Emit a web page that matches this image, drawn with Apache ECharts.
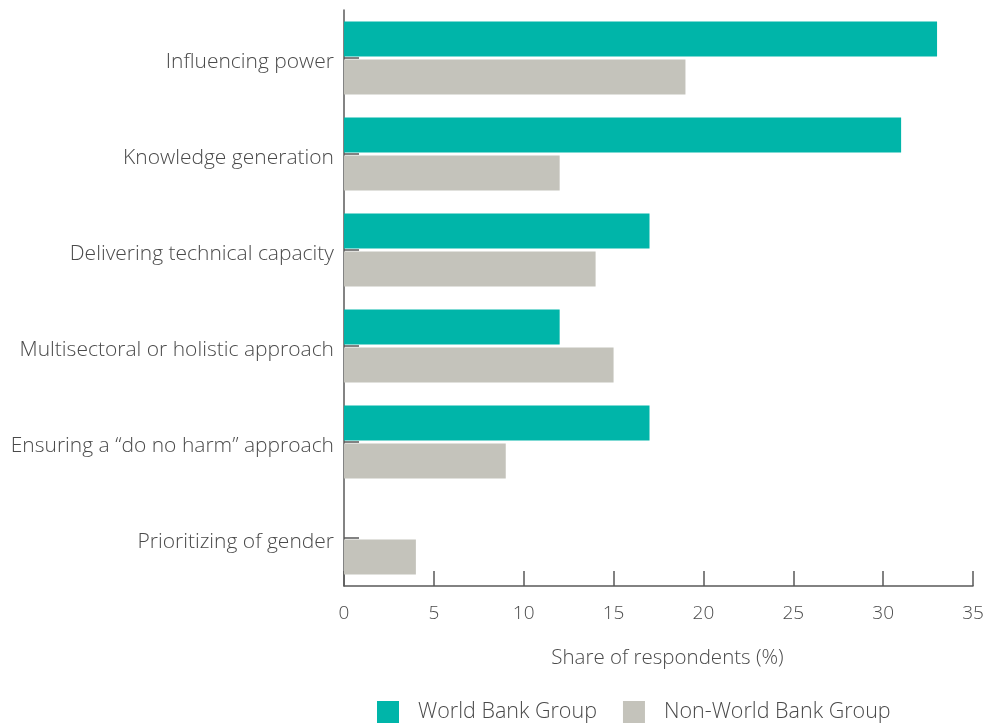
<!DOCTYPE html>
<html lang="en">
<head>
    <meta charset="UTF-8">
    <title>Share of respondents</title>
    <script src="https://cdn.jsdelivr.net/npm/echarts@6.0.0/dist/echarts.min.js"></script>
    <style>
        html, body { margin: 0; padding: 0; background: #fff; }
        #chart { width: 991px; height: 725px; }
    </style>
</head>
<body>
    <div id="chart"></div>
    <script>
        // data
        var categories = [
            'Influencing power',
            'Knowledge generation',
            'Delivering technical capacity',
            'Multisectoral or holistic approach',
            'Ensuring a \u201cdo no harm\u201d approach',
            'Prioritizing of gender'
        ];
        var worldBank = [33, 31, 17, 12, 17, 0];
        var nonWorldBank = [19, 12, 14, 15, 9, 4];
        var xTicks = [0, 5, 10, 15, 20, 25, 30, 35];

        var font = 'Open Sans';
        var weight = 300;
        var textColor = '#4a4a4a';
        var axisColor = '#5a5a5a';

        var myChart = echarts.init(document.getElementById('chart'));
        var option = {
            animation: false,
            grid: {
                left: 344,
                right: 18,
                top: 10,
                bottom: 139
            },
            legend: {
                top: 696,
                left: 372,
                itemWidth: 22,
                itemHeight: 22,
                itemGap: 26,
                icon: 'rect',
                textStyle: { fontFamily: font, fontWeight: weight, fontSize: 21.5, color: textColor, padding: [0, 0, 0, 14] },
                data: ['World Bank Group', 'Non-World Bank Group']
            },
            xAxis: {
                type: 'value',
                min: xTicks[0],
                max: xTicks[xTicks.length - 1],
                interval: 5,
                name: 'Share of respondents (%)',
                nameLocation: 'middle',
                nameGap: 62,
                nameTextStyle: { fontFamily: font, fontWeight: weight, fontSize: 20.5, color: textColor, padding: [0, 0, 0, 18] },
                axisLine: { show: true, lineStyle: { color: axisColor, width: 1.5 } },
                axisTick: { show: true, inside: true, length: 15, lineStyle: { color: axisColor, width: 1.5 } },
                axisLabel: { fontFamily: font, fontWeight: weight, fontSize: 19, color: textColor, margin: 18 },
                splitLine: { show: false }
            },
            yAxis: {
                type: 'category',
                inverse: true,
                data: categories,
                axisLine: { show: true, lineStyle: { color: axisColor, width: 1.5 } },
                axisTick: { show: true, inside: true, length: 15, alignWithLabel: true, lineStyle: { color: axisColor, width: 1.5 } },
                axisLabel: { fontFamily: font, fontWeight: weight, fontSize: 21, color: textColor, margin: 10, verticalAlign: 'top', lineHeight: 9 }
            },
            series: [
                {
                    name: 'World Bank Group',
                    type: 'bar',
                    data: worldBank,
                    itemStyle: { color: '#00b5a9' },
                    barWidth: 35,
                    barGap: '8.6%'
                },
                {
                    name: 'Non-World Bank Group',
                    type: 'bar',
                    data: nonWorldBank,
                    itemStyle: { color: '#c4c3bb' },
                    barWidth: 35,
                    barGap: '8.6%'
                }
            ]
        };
        myChart.setOption(option);
    </script>
</body>
</html>
